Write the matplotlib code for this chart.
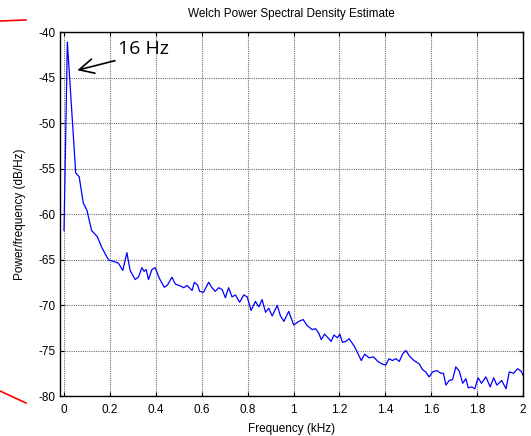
import matplotlib
matplotlib.use('Agg')
import matplotlib.pyplot as plt
from matplotlib.lines import Line2D

plt.rcParams['font.family'] = ['Liberation Sans', 'DejaVu Sans']

# frequency (kHz) and PSD (dB/Hz)
freq = [0.000, 0.0145, 0.051, 0.066, 0.084, 0.100, 0.120, 0.145, 0.165, 0.194,
        0.215, 0.237, 0.256, 0.274, 0.288, 0.310, 0.325, 0.339, 0.349, 0.358,
        0.368, 0.383, 0.397, 0.416, 0.437, 0.451, 0.470, 0.485, 0.507, 0.521,
        0.536, 0.558, 0.568, 0.582, 0.591, 0.608, 0.630, 0.645, 0.659, 0.674,
        0.689, 0.703, 0.717, 0.732, 0.747, 0.765, 0.783, 0.798, 0.815, 0.834,
        0.849, 0.863, 0.878, 0.892, 0.907, 0.929, 0.943, 0.958, 0.979, 1.001,
        1.023, 1.042, 1.059, 1.081, 1.096, 1.110, 1.121, 1.135, 1.150, 1.164,
        1.176, 1.191, 1.202, 1.213, 1.227, 1.242, 1.264, 1.280, 1.295, 1.310,
        1.329, 1.348, 1.368, 1.387, 1.402, 1.416, 1.431, 1.446, 1.461, 1.475,
        1.489, 1.508, 1.525, 1.547, 1.562, 1.576, 1.591, 1.606, 1.624, 1.642,
        1.653, 1.664, 1.678, 1.693, 1.707, 1.722, 1.737, 1.751, 1.761, 1.776,
        1.790, 1.804, 1.819, 1.838, 1.857, 1.872, 1.886, 1.907, 1.926, 1.940,
        1.959, 1.976, 1.991, 2.000]
psd = [-61.8, -41.1, -55.5, -55.9, -58.8, -59.6, -61.8, -62.5, -63.7, -65.05,
       -65.2, -65.4, -66.2, -64.25, -66.2, -67.2, -66.9, -65.9, -66.3, -66.1,
       -67.2, -66.1, -65.9, -67.1, -68.05, -67.8, -66.95, -67.7, -67.9, -68.1,
       -67.85, -68.4, -67.5, -67.8, -68.5, -68.6, -67.5, -68.1, -68.5, -68.1,
       -68.3, -69.2, -68.1, -69.1, -68.9, -69.7, -68.9, -69.1, -70.6, -69.6,
       -70.2, -69.4, -70.8, -70.35, -71.2, -70.05, -71.2, -71.8, -70.7, -72.2,
       -71.8, -71.6, -72.25, -72.7, -72.6, -73.1, -73.8, -73.2, -73.6, -74.0,
       -73.3, -73.6, -73.2, -74.1, -74.0, -73.7, -74.5, -75.3, -76.1, -75.4,
       -75.8, -75.7, -76.2, -76.5, -76.6, -75.9, -76.1, -75.9, -76.2, -75.4,
       -75.0, -75.7, -76.1, -76.45, -77.1, -77.35, -77.9, -77.35, -77.2, -77.5,
       -77.5, -78.8, -78.3, -78.2, -76.8, -77.25, -78.6, -78.1, -79.1, -79.0,
       -79.2, -78.0, -78.6, -77.9, -79.0, -78.0, -78.8, -78.3, -79.2, -77.35,
       -77.5, -77.0, -77.25, -77.7]

xticks = [0, 0.2, 0.4, 0.6, 0.8, 1, 1.2, 1.4, 1.6, 1.8, 2]
xticklabels = ['0', '0.2', '0.4', '0.6', '0.8', '1', '1.2', '1.4', '1.6', '1.8', '2']
yticks = [-80, -75, -70, -65, -60, -55, -50, -45, -40]

fig = plt.figure(figsize=(5.31, 4.36), dpi=100)
ax = fig.add_axes([0.113, 0.0917, 0.872, 0.8349])

ax.plot(freq, psd, color='#0000ff', lw=0.9)
ax.set_xlim(-0.0175, 2.0)
ax.set_ylim(-80, -40)
ax.set_xticks(xticks)
ax.set_xticklabels(xticklabels)
ax.set_yticks(yticks)
ax.set_yticklabels([str(v) for v in yticks])
ax.tick_params(direction='in', top=True, right=True, length=3, width=0.8,
               labelsize=8.5)
ax.tick_params(axis='x', pad=6)
ax.tick_params(axis='y', pad=3)
ax.grid(True, color='#6e6e6e', linestyle=(0, (1, 1)), lw=0.8)
for s in ax.spines.values():
    s.set_linewidth(1.0)

ax.set_title('Welch Power Spectral Density Estimate', fontsize=8.5, pad=11)
ax.set_xlabel('Frequency (kHz)', fontsize=8.5, labelpad=5)
ax.set_ylabel('Power/frequency (dB/Hz)', fontsize=8.5, labelpad=9)

ax.text(0.236, -41.85, '16 Hz', fontsize=14, family=['Open Sans', 'DejaVu Sans'],
        va='center', ha='left')
ax.annotate('', xy=(0.058, -44.2), xytext=(0.222, -43.15),
            arrowprops=dict(arrowstyle='->', color='black', lw=1.2,
                            mutation_scale=26, shrinkA=0, shrinkB=0))

# red marks left of the axes
fig.add_artist(Line2D([0, 26 / 531], [1 - 21 / 436, 1 - 20 / 436],
                      color='red', lw=1.2, transform=fig.transFigure))
fig.add_artist(Line2D([0, 26 / 531], [1 - 391 / 436, 1 - 403 / 436],
                      color='red', lw=1.2, transform=fig.transFigure))

fig.savefig('out.png', dpi=100)
